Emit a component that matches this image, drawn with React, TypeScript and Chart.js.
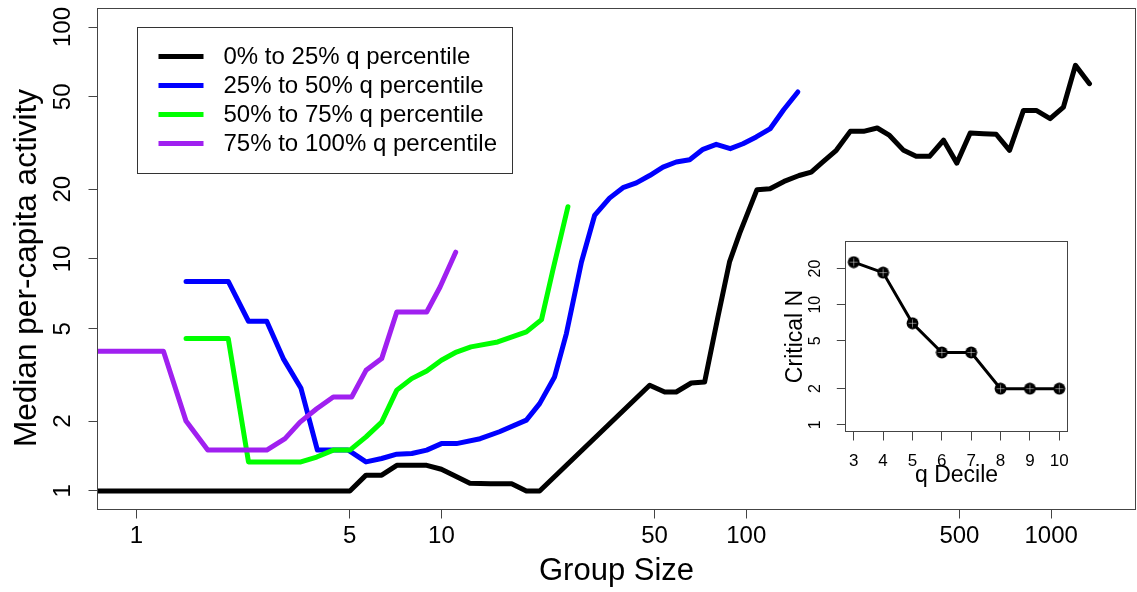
import React, { useEffect, useRef } from 'react';
import { Chart, registerables } from 'chart.js';

Chart.register(...registerables);

const FONT = "'Liberation Sans', Arial, Helvetica, sans-serif";
const AXIS = '#444444';

// ---------- main chart data ----------
const seriesLabels = [
  '0% to 25% q percentile',
  '25% to 50% q percentile',
  '50% to 75% q percentile',
  '75% to 100% q percentile',
];
const seriesColors = ['#000000', '#0000FF', '#00FF00', '#A020F0'];

const q0to25X = [0.75, 5.01, 5.66, 6.37, 7.14, 8.0, 8.95, 10.0, 10.97, 12.4, 14.5, 17.0, 19.0, 21.0, 48.2, 54.0, 58.9, 66.0, 73.0, 80.7, 88.1, 95.1, 108.4, 119.6, 133, 149, 163.3, 178.3, 197.3, 219.3, 242.4, 268.8, 295, 328, 360.6, 399, 443.6, 490.3, 542.5, 600, 660, 730, 811, 893, 992, 1097, 1201, 1335];
const q0to25Y = [1, 1, 1.17, 1.17, 1.29, 1.29, 1.29, 1.24, 1.17, 1.08, 1.075, 1.075, 1.0, 1.0, 2.855, 2.67, 2.67, 2.92, 2.95, 5.62, 9.71, 12.9, 19.9, 20.1, 21.6, 22.9, 23.7, 26.2, 29.4, 35.5, 35.5, 36.7, 34.1, 29.4, 27.7, 27.7, 32.5, 25.9, 34.9, 34.7, 34.5, 29.4, 43.7, 43.7, 40.3, 45.2, 68.4, 57.0];

const q25to50X = [1.454, 2.0, 2.33, 2.674, 3.03, 3.46, 3.92, 4.95, 5.66, 6.37, 7.14, 8.0, 8.95, 10.0, 11.2, 13.4, 15.5, 19.0, 21.0, 23.5, 25.7, 28.8, 31.8, 35.6, 39.4, 43.6, 48.2, 53.3, 58.9, 65.2, 72.1, 79.7, 88.6, 97.5, 107.8, 119.9, 132.6, 147.6];
const q25to50Y = [8.0, 8.0, 5.39, 5.39, 3.72, 2.78, 1.5, 1.5, 1.334, 1.38, 1.44, 1.45, 1.5, 1.6, 1.6, 1.68, 1.8, 2.02, 2.38, 3.1, 4.77, 9.71, 15.4, 18.3, 20.3, 21.3, 22.9, 24.9, 26.2, 26.8, 29.7, 31.2, 29.9, 31.4, 33.6, 36.5, 44.0, 52.5];

const q50to75X = [1.454, 2.0, 2.33, 3.46, 3.9, 4.42, 5.01, 5.66, 6.37, 7.14, 7.99, 8.95, 10.0, 11.2, 12.5, 15.3, 19.0, 21.3, 23.2, 26.0];
const q50to75Y = [4.54, 4.54, 1.334, 1.334, 1.4, 1.5, 1.5, 1.71, 1.98, 2.72, 3.05, 3.29, 3.66, 3.97, 4.18, 4.39, 4.85, 5.48, 8.94, 16.8];

const q75to100X = [0.75, 1.226, 1.454, 1.713, 2.674, 3.07, 3.44, 3.9, 4.42, 5.08, 5.66, 6.37, 7.14, 8.95, 9.9, 11.14];
const q75to100Y = [4.0, 4.0, 2.0, 1.5, 1.5, 1.68, 1.98, 2.26, 2.54, 2.54, 3.31, 3.72, 5.91, 5.91, 7.57, 10.7];

const xTicks = [1, 5, 10, 50, 100, 500, 1000];
const yTicks = [1, 2, 5, 10, 20, 50, 100];
const X_MIN = 0.745;
const X_MAX = 1890;
const Y_MIN = 0.8318;
const Y_MAX = 120.2;
const Y_TITLE = 'Median per-capita activity';

// ---------- inset data ----------
const insetDeciles = [3, 4, 5, 6, 7, 8, 9, 10];
const insetCriticalN = [22.6, 18.5, 7, 4, 4, 2, 2, 2];
const insetYTicks = [1, 2, 5, 10, 20];
const INSET_X_MIN = 2.72;
const INSET_X_MAX = 10.28;
const INSET_Y_MIN = 0.879;
const INSET_Y_MAX = 33.6;

const seriesX = [q0to25X, q25to50X, q50to75X, q75to100X];
const seriesY = [q0to25Y, q25to50Y, q50to75Y, q75to100Y];

const zeroPad = (s: any) => {
  s.paddingLeft = 0;
  s.paddingRight = 0;
  s.paddingTop = 0;
  s.paddingBottom = 0;
};

const framePlugin = {
  id: 'rFrame',
  afterDatasetsDraw(chart: any) {
    const { ctx, chartArea } = chart;
    ctx.save();
    ctx.strokeStyle = AXIS;
    ctx.lineWidth = 1;
    ctx.strokeRect(chartArea.left, chartArea.top, chartArea.right - chartArea.left, chartArea.bottom - chartArea.top);
    ctx.restore();
  },
};

// y-axis title placed like R's mtext (slightly below the plot-region centre)
const yTitlePlugin = {
  id: 'rYTitle',
  afterDraw(chart: any) {
    const { ctx, chartArea } = chart;
    ctx.save();
    ctx.translate(chartArea.left - 62, (chartArea.top + chartArea.bottom) / 2 + 9);
    ctx.rotate(-Math.PI / 2);
    ctx.font = `31.6px ${FONT}`;
    ctx.fillStyle = '#000000';
    ctx.textAlign = 'center';
    ctx.textBaseline = 'alphabetic';
    ctx.fillText(Y_TITLE, 0, 0);
    ctx.restore();
  },
};

const legendPlugin = {
  id: 'rLegend',
  afterDraw(chart: any) {
    const { ctx, chartArea } = chart;
    const x0 = Math.round(chartArea.left + 39) + 0.5;
    const y0 = Math.round(chartArea.top + 18) + 0.5;
    const w = 375;
    const h = 146;
    ctx.save();
    ctx.strokeStyle = '#333333';
    ctx.lineWidth = 1;
    ctx.strokeRect(x0, y0, w, h);
    ctx.font = `24px ${FONT}`;
    ctx.textBaseline = 'middle';
    ctx.textAlign = 'left';
    chart.data.datasets.forEach((ds: any, i: number) => {
      const y = y0 + 29 + i * 29;
      ctx.strokeStyle = ds.borderColor;
      ctx.lineWidth = 5;
      ctx.lineCap = 'butt';
      ctx.beginPath();
      ctx.moveTo(x0 + 21, y);
      ctx.lineTo(x0 + 66, y);
      ctx.stroke();
      ctx.fillStyle = '#000000';
      ctx.fillText(ds.label, x0 + 86, y + 0.5);
    });
    ctx.restore();
  },
};

function makeMarker(): HTMLCanvasElement {
  const c = document.createElement('canvas');
  c.width = 13;
  c.height = 13;
  const g = c.getContext('2d')!;
  g.beginPath();
  g.arc(6.5, 6.5, 5.9, 0, Math.PI * 2);
  g.fillStyle = '#000000';
  g.fill();
  g.strokeStyle = 'rgba(255,255,255,0.45)';
  g.lineWidth = 1;
  g.beginPath();
  g.moveTo(6.5, 2.5);
  g.lineTo(6.5, 10.5);
  g.moveTo(2.5, 6.5);
  g.lineTo(10.5, 6.5);
  g.stroke();
  return c;
}

export default function App() {
  const mainRef = useRef<HTMLCanvasElement>(null);
  const insetRef = useRef<HTMLCanvasElement>(null);

  useEffect(() => {
    const datasets = seriesLabels.map((label, i) => ({
      label,
      data: seriesX[i].map((x, j) => ({ x, y: seriesY[i][j] })),
      borderColor: seriesColors[i],
      backgroundColor: seriesColors[i],
      borderWidth: 5,
      pointRadius: 0,
      tension: 0,
      fill: false,
      clip: 0,
      order: seriesLabels.length - 1 - i,
      borderCapStyle: 'round',
      borderJoinStyle: 'round',
    }));

    const main = new Chart(mainRef.current!, {
      type: 'line',
      data: { datasets } as any,
      options: {
        animation: false,
        responsive: false,
        maintainAspectRatio: false,
        events: [],
        layout: { padding: { left: 0, top: 8.5, right: 1.5, bottom: 0 } },
        scales: {
          x: {
            type: 'logarithmic',
            bounds: 'data',
            min: X_MIN,
            max: X_MAX,
            afterBuildTicks: (s: any) => {
              s.ticks = xTicks.map((v) => ({ value: v }));
            },
            afterFit: (s: any) => {
              s.height = 82.5;
              zeroPad(s);
            },
            ticks: {
              autoSkip: false,
              maxRotation: 0,
              minRotation: 0,
              padding: 3.8,
              color: '#000000',
              font: { family: FONT, size: 24 },
              callback: (v: any) => String(v),
            },
            grid: { display: true, drawOnChartArea: false, drawTicks: true, tickLength: 9, color: AXIS, lineWidth: 1 },
            border: { display: false },
            title: {
              display: true,
              text: 'Group Size',
              color: '#000000',
              font: { family: FONT, size: 31 },
              padding: { top: 0, bottom: 2.4 },
            },
          },
          y: {
            type: 'logarithmic',
            bounds: 'data',
            min: Y_MIN,
            max: Y_MAX,
            afterBuildTicks: (s: any) => {
              s.ticks = yTicks.map((v) => ({ value: v }));
            },
            afterFit: (s: any) => {
              s.width = 97.5;
              zeroPad(s);
            },
            ticks: {
              autoSkip: false,
              minRotation: 90,
              maxRotation: 90,
              crossAlign: 'center',
              padding: 4.8,
              color: '#000000',
              font: { family: FONT, size: 24 },
              callback: (v: any) => String(v),
            },
            grid: { display: true, drawOnChartArea: false, drawTicks: true, tickLength: 9, color: AXIS, lineWidth: 1 },
            border: { display: false },
            title: { display: false },
          },
        },
        plugins: {
          legend: { display: false },
          tooltip: { enabled: false },
        },
      } as any,
      plugins: [framePlugin, yTitlePlugin, legendPlugin],
    });

    const marker = makeMarker();
    const inset = new Chart(insetRef.current!, {
      type: 'line',
      data: {
        datasets: [
          {
            label: 'Critical N',
            data: insetDeciles.map((x, i) => ({ x, y: insetCriticalN[i] })),
            borderColor: '#000000',
            backgroundColor: '#000000',
            borderWidth: 3,
            pointStyle: marker,
            pointRadius: 6,
            tension: 0,
            fill: false,
          },
        ],
      } as any,
      options: {
        animation: false,
        responsive: false,
        maintainAspectRatio: false,
        events: [],
        layout: { padding: { left: 0, top: 11.5, right: 12.5, bottom: 0 } },
        scales: {
          x: {
            type: 'linear',
            bounds: 'data',
            min: INSET_X_MIN,
            max: INSET_X_MAX,
            afterBuildTicks: (s: any) => {
              s.ticks = insetDeciles.map((v) => ({ value: v }));
            },
            afterFit: (s: any) => {
              s.height = 68.5;
              zeroPad(s);
            },
            ticks: {
              autoSkip: false,
              maxRotation: 0,
              minRotation: 0,
              padding: 10.7,
              color: '#000000',
              font: { family: FONT, size: 17 },
              callback: (v: any) => String(v),
            },
            grid: { display: true, drawOnChartArea: false, drawTicks: true, tickLength: 9, color: AXIS, lineWidth: 1 },
            border: { display: false },
            title: {
              display: true,
              text: 'q Decile',
              color: '#000000',
              font: { family: FONT, size: 23 },
              padding: { top: 0, bottom: 10.9 },
            },
          },
          y: {
            type: 'logarithmic',
            bounds: 'data',
            min: INSET_Y_MIN,
            max: INSET_Y_MAX,
            afterBuildTicks: (s: any) => {
              s.ticks = insetYTicks.map((v) => ({ value: v }));
            },
            afterFit: (s: any) => {
              s.width = 105.5;
              zeroPad(s);
            },
            ticks: {
              autoSkip: false,
              minRotation: 90,
              maxRotation: 90,
              crossAlign: 'center',
              padding: 12.2,
              color: '#000000',
              font: { family: FONT, size: 16 },
              callback: (v: any) => String(v),
            },
            grid: { display: true, drawOnChartArea: false, drawTicks: true, tickLength: 8.7, color: AXIS, lineWidth: 1 },
            border: { display: false },
            title: {
              display: true,
              text: 'Critical N',
              color: '#000000',
              font: { family: FONT, size: 23 },
              padding: { top: 41.5, bottom: 0 },
            },
          },
        },
        plugins: {
          legend: { display: false },
          tooltip: { enabled: false },
        },
      } as any,
      plugins: [framePlugin],
    });

    return () => {
      main.destroy();
      inset.destroy();
    };
  }, []);

  return (
    <div style={{ position: 'absolute', left: 0, top: 0, width: 1137, height: 592, background: '#ffffff' }}>
      <canvas
        ref={mainRef}
        width={1137}
        height={592}
        style={{ position: 'absolute', left: 0, top: 0, width: 1137, height: 592 }}
      />
      <canvas
        ref={insetRef}
        width={340}
        height={270}
        style={{ position: 'absolute', left: 740, top: 230, width: 340, height: 270 }}
      />
    </div>
  );
}
